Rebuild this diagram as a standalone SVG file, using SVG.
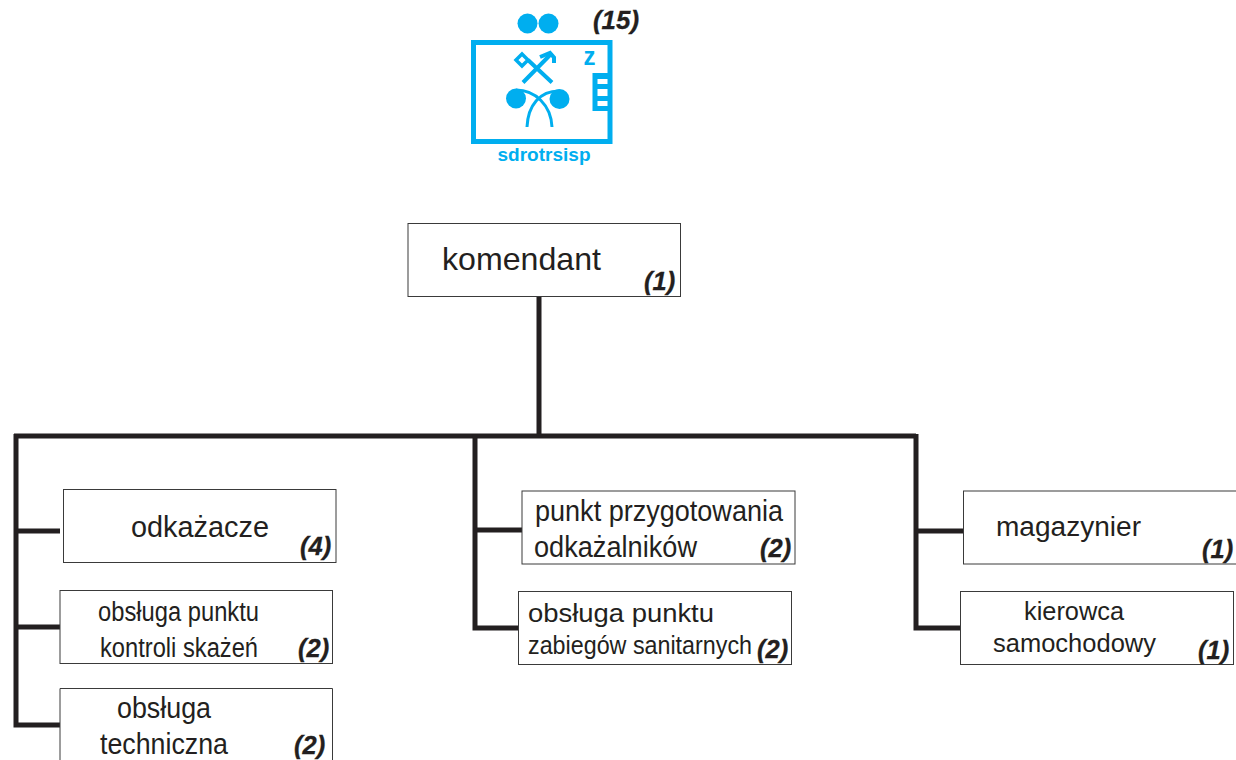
<svg xmlns="http://www.w3.org/2000/svg" width="1236" height="760" viewBox="0 0 1236 760">
<style>
.box{fill:#fff;stroke:#3a3a3a;stroke-width:1}
.t{font-family:"Liberation Sans",Arial,sans-serif;fill:#231f20}
.n{font-family:"Liberation Sans",Arial,sans-serif;font-weight:bold;font-style:italic;font-size:25.500px;fill:#231f20;stroke:#231f20;stroke-width:.3}
.c{fill:none;stroke:#231f20;stroke-width:5}
.b{fill:none;stroke:#00aeef}
.bf{fill:#00aeef}
</style>
<rect width="1236" height="760" fill="#fff"/>
<g id="connectors">
<path class="c" d="M539 297V436"/>
<path class="c" d="M14 436H916"/>
<path class="c" d="M16 434V725H60"/>
<path class="c" d="M16 531H60"/>
<path class="c" d="M16 627H60"/>
<path class="c" d="M475 434V628H518"/>
<path class="c" d="M475 530H522"/>
<path class="c" d="M916 434V628H960"/>
<path class="c" d="M916 531H963"/>
</g>
<g id="emblem">
<circle class="bf" cx="527.500" cy="23.500" r="10"/>
<circle class="bf" cx="548.500" cy="23.500" r="10"/>
<rect class="b" x="473.500" y="42.500" width="136.500" height="99" stroke-width="5"/>
<g class="b">
<path d="M523 82.500L552 53M528 60L552 82.500" stroke-width="4"/>
<path d="M516 60L522 54L528 60L522 66Z" stroke-width="3.500"/>
<path d="M540 57L550 53L554 57.500V63" stroke-width="4"/>
<path d="M516 90C535 90 551 105 552 127M559 91C540 91 528 105 527 127" stroke-width="3"/>
</g>
<circle class="bf" cx="516" cy="98.500" r="10"/>
<circle class="bf" cx="559.500" cy="99" r="10"/>
<path class="bf" fill-rule="evenodd" d="M592.500 73H608V111H592.500ZM597.500 79V84H608V79ZM597.500 89V96H608V89ZM597.500 101V106H608V101Z"/>
<text x="583.500" y="65" font-family="Liberation Sans" font-weight="bold" font-size="25" class="bf" textLength="12" lengthAdjust="spacingAndGlyphs">z</text>
<text x="497.500" y="161" font-family="Liberation Sans" font-weight="bold" font-size="18" class="bf" textLength="93" lengthAdjust="spacingAndGlyphs">sdrotrsisp</text>
<text x="593" y="29" class="n" textLength="46" lengthAdjust="spacingAndGlyphs">(15)</text>
</g>
<g id="komendant">
<rect class="box" x="408" y="223.500" width="272.500" height="73"/>
<text class="t" x="442" y="270" font-size="32" textLength="159" lengthAdjust="spacingAndGlyphs">komendant</text>
<text class="n" x="644" y="290">(1)</text>
</g>
<g id="odkazacze">
<rect class="box" x="63.500" y="489.500" width="272.500" height="73"/>
<text class="t" x="131" y="536.500" font-size="29" textLength="138" lengthAdjust="spacingAndGlyphs">odkażacze</text>
<text class="n" x="300" y="555">(4)</text>
</g>
<g id="obsluga-kontroli">
<rect class="box" x="60" y="590.500" width="272.500" height="73"/>
<text class="t" x="98" y="621" font-size="27" textLength="161" lengthAdjust="spacingAndGlyphs">obsługa punktu</text>
<text class="t" x="100" y="657" font-size="27" textLength="158" lengthAdjust="spacingAndGlyphs">kontroli skażeń</text>
<text class="n" x="298" y="657">(2)</text>
</g>
<g id="obsluga-techniczna">
<path class="box" d="M60 760V688.500H332.500V760"/>
<text class="t" x="117" y="718" font-size="30" textLength="94" lengthAdjust="spacingAndGlyphs">obsługa</text>
<text class="t" x="100" y="754" font-size="30" textLength="128" lengthAdjust="spacingAndGlyphs">techniczna</text>
<text class="n" x="294" y="754">(2)</text>
</g>
<g id="punkt-przygotowania">
<rect class="box" x="522" y="491" width="273" height="73"/>
<text class="t" x="535" y="521" font-size="29" textLength="248" lengthAdjust="spacingAndGlyphs">punkt przygotowania</text>
<text class="t" x="534" y="557" font-size="29" textLength="163" lengthAdjust="spacingAndGlyphs">odkażalników</text>
<text class="n" x="760" y="557">(2)</text>
</g>
<g id="obsluga-zabiegow">
<rect class="box" x="518.500" y="591.500" width="273" height="73"/>
<text class="t" x="528" y="622" font-size="25" textLength="186" lengthAdjust="spacingAndGlyphs">obsługa punktu</text>
<text class="t" x="528" y="654" font-size="25" textLength="224" lengthAdjust="spacingAndGlyphs">zabiegów sanitarnych</text>
<text class="n" x="757" y="658">(2)</text>
</g>
<g id="magazynier">
<rect class="box" x="963.500" y="491" width="273" height="73"/>
<text class="t" x="996" y="536" font-size="27" textLength="145" lengthAdjust="spacingAndGlyphs">magazynier</text>
<text class="n" x="1202" y="558">(1)</text>
</g>
<g id="kierowca">
<rect class="box" x="960.500" y="591.500" width="273" height="73"/>
<text class="t" x="1024" y="620" font-size="26" textLength="100" lengthAdjust="spacingAndGlyphs">kierowca</text>
<text class="t" x="993" y="652" font-size="26" textLength="163" lengthAdjust="spacingAndGlyphs">samochodowy</text>
<text class="n" x="1198" y="659">(1)</text>
</g>
</svg>
